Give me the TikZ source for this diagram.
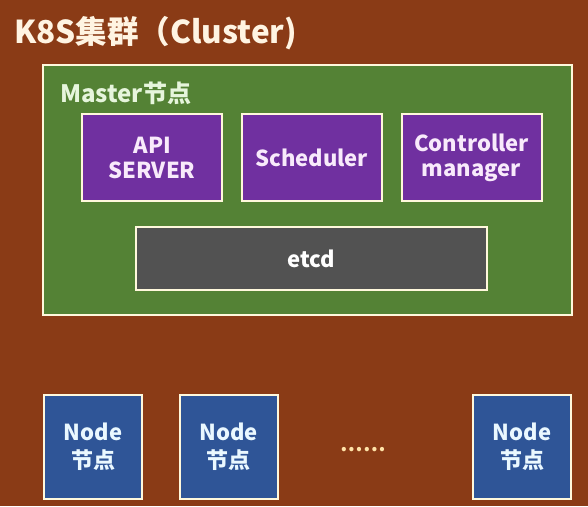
\documentclass[tikz,border=0pt]{standalone}
\usepackage{fontspec}
\setmainfont{Noto Sans CJK SC}
\begin{document}
\begin{tikzpicture}[x=1pt,y=-1pt,
  frame/.style={draw=edgecol,line width=2pt,inner sep=0pt,align=center,font=\bfseries\fontsize{22}{25}\selectfont},
  compbox/.style={frame,fill=purp,text=purptext,minimum width=140pt,minimum height=87pt},
  workbox/.style={frame,fill=nodeblue,text=nodetext,minimum width=98pt,minimum height=104pt,font=\bfseries\fontsize{22}{28}\selectfont}]
\definecolor{bg}{HTML}{8A3B16}
\definecolor{edgecol}{HTML}{FFF8DC}
\definecolor{mgreen}{HTML}{548235}
\definecolor{purp}{HTML}{7030A0}
\definecolor{purptext}{HTML}{F8EAFB}
\definecolor{etcdgray}{HTML}{525252}
\definecolor{nodeblue}{HTML}{2F5597}
\definecolor{nodetext}{HTML}{EAF8FF}
\definecolor{titletext}{HTML}{FFF4E2}
\definecolor{mastertext}{HTML}{E6F5DC}
\definecolor{dotcol}{HTML}{FFE3A8}
\useasboundingbox (0,0) rectangle (588,506);
\fill[bg] (0,0) rectangle (588,506);
\node[anchor=base west,inner sep=0pt,text=titletext,font=\bfseries\fontsize{31.5}{34}\selectfont] (title) at (14,43) {K8S集群（Cluster)};
\node[frame,fill=mgreen,minimum width=529pt,minimum height=250pt] (master) at (307.2,190.3) {};
\node[anchor=base west,inner sep=0pt,text=mastertext,font=\bfseries\fontsize{24}{26}\selectfont] (masterlabel) at (60,102) {Master节点};
\node[compbox] (api) at (152.2,157.8) {API\\SERVER};
\node[compbox] (sched) at (311.7,157.8) {Scheduler};
\node[compbox] (ctrl) at (471.5,157.8) {Controller\\manager};
\node[frame,fill=etcdgray,text=white,minimum width=351pt,minimum height=63pt] (etcd) at (311.4,258.4) {etcd};
\node[workbox] (n1) at (93,447) {Node\\节点};
\node[workbox] (n2) at (228.7,447) {Node\\节点};
\node[workbox] (n3) at (522,447) {Node\\节点};
\node[inner sep=0pt,text=dotcol,font=\bfseries\fontsize{20}{22}\selectfont] (dots) at (363,450) {……};
\end{tikzpicture}
\end{document}
